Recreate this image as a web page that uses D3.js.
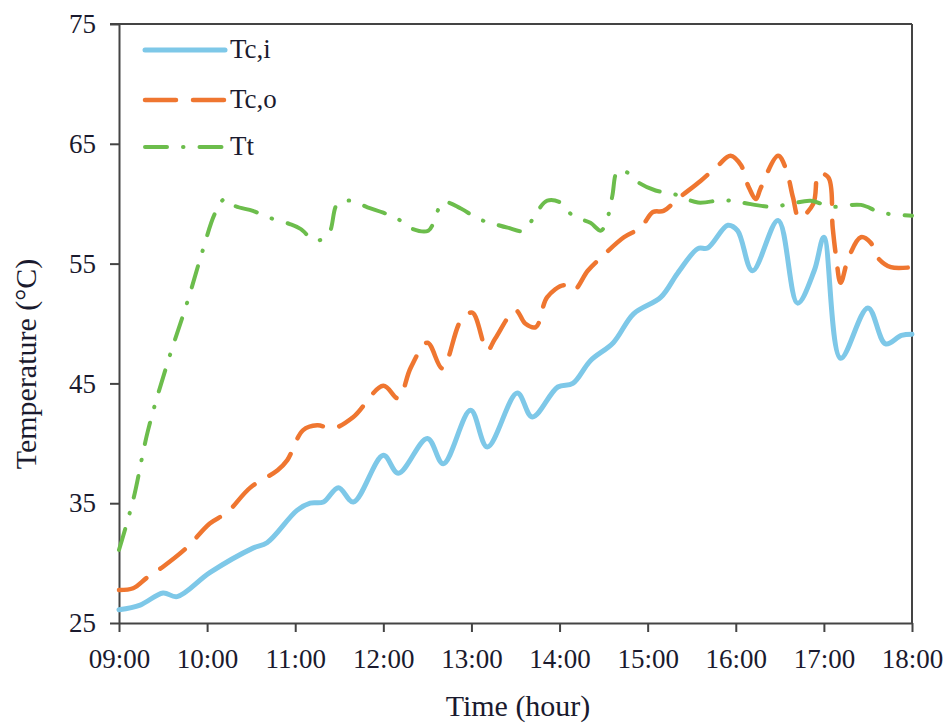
<!DOCTYPE html>
<html>
<head>
<meta charset="utf-8">
<script src="https://cdn.jsdelivr.net/npm/d3@7.9.0/dist/d3.min.js"></script>
<style>
  body { margin: 0; background: #fff; }
  svg { display: block; font-family: "Liberation Serif", "Times New Roman", serif; }
</style>
</head>
<body>
<svg id="chart" width="952" height="727"></svg>
<script>
// ---- data (hours, °C) ----
const tciTime = [9.0, 9.24, 9.5, 9.66, 10.03, 10.52, 10.68, 11.02, 11.17, 11.32, 11.49, 11.66, 12.0, 12.17,
  12.5, 12.68, 12.99, 13.18, 13.52, 13.69, 13.98, 14.15, 14.35, 14.61, 14.84, 15.15, 15.34, 15.57,
  15.68, 15.91, 16.02, 16.19, 16.48, 16.7, 16.89, 17.0, 17.19, 17.5, 17.7, 17.88, 18.0];
const tciTemp = [26.1, 26.5, 27.5, 27.2, 29.2, 31.25, 31.7, 34.4, 35.0, 35.1, 36.3, 35.1, 39.0, 37.5,
  40.4, 38.3, 42.75, 39.7, 44.2, 42.2, 44.7, 45.0, 46.9, 48.4, 50.8, 52.2, 54.2, 56.25,
  56.3, 58.2, 57.75, 54.4, 58.6, 51.7, 54.4, 57.2, 47.1, 51.3, 48.3, 49.0, 49.1];

const tcoTime = [9.0, 9.16, 9.32, 9.5, 9.77, 10.03, 10.23, 10.49, 10.8, 10.91, 11.09, 11.25, 11.43, 11.66,
  12.0, 12.17, 12.31, 12.5, 12.67, 12.88, 13.01, 13.18, 13.27, 13.5, 13.61, 13.73, 13.86, 14.05,
  14.16, 14.32, 14.47, 14.73, 14.92, 15.06, 15.18, 15.34, 15.6, 15.8, 15.94, 16.06, 16.14, 16.23,
  16.28, 16.48, 16.57, 16.65, 16.72, 16.88, 16.94, 17.05, 17.1, 17.14, 17.19, 17.28, 17.42, 17.53,
  17.61, 17.76, 18.0];
const tcoTemp = [27.75, 27.9, 28.8, 29.7, 31.3, 33.3, 34.25, 36.3, 37.75, 38.6, 41.1, 41.5, 41.25, 42.2,
  44.8, 43.75, 46.3, 48.4, 46.25, 50.25, 50.9, 47.75, 48.75, 51.1, 50.0, 49.7, 52.2, 53.2,
  52.75, 54.4, 55.5, 57.2, 58.0, 59.3, 59.4, 60.4, 61.9, 63.2, 64.0, 63.2, 61.5, 60.4,
  61.25, 64.0, 62.9, 60.5, 58.8, 60.0, 62.5, 62.2, 58.0, 55.5, 53.4, 55.5, 57.2, 56.75,
  55.5, 54.7, 54.7];

const ttTime = [9.0, 9.16, 9.33, 9.55, 9.78, 9.95, 10.09, 10.2, 10.32, 10.52, 10.72, 10.94, 11.06, 11.23,
  11.38, 11.48, 11.63, 11.82, 12.0, 12.16, 12.33, 12.51, 12.68, 12.88, 13.07, 13.22, 13.41, 13.59,
  13.75, 13.86, 14.01, 14.15, 14.35, 14.47, 14.56, 14.6, 14.66, 14.77, 14.9, 15.09, 15.3, 15.57,
  15.85, 16.06, 16.4, 16.63, 16.85, 17.08, 17.42, 17.65, 18.0];
const ttTemp = [31.1, 35.25, 41.1, 46.7, 51.9, 56.1, 59.2, 60.4, 59.8, 59.4, 58.8, 58.3, 57.9, 56.9,
  57.5, 60.0, 60.25, 59.7, 59.25, 58.75, 57.9, 57.75, 60.1, 59.6, 58.75, 58.4, 58.0, 57.75,
  59.4, 60.25, 60.1, 59.0, 58.4, 57.75, 59.2, 60.7, 62.75, 62.6, 61.75, 61.1, 60.8, 60.1,
  60.3, 60.1, 59.75, 60.0, 60.25, 59.75, 59.9, 59.25, 59.0];

const xTicks = [9, 10, 11, 12, 13, 14, 15, 16, 17, 18];
const yTicks = [25, 35, 45, 55, 65, 75];

const series = [
  { name: 'Tc,i', time: tciTime, temp: tciTemp, color: '#7ec8e8', width: 5, dash: null },
  { name: 'Tc,o', time: tcoTime, temp: tcoTemp, color: '#ef7630', width: 4.5, dash: '31,17' },
  { name: 'Tt', time: ttTime, temp: ttTemp, color: '#6cbd4c', width: 4, dash: '22,16,0.5,16' },
];

// ---- layout ----
const W = 952, H = 727;
const margin = { top: 24, right: 40, bottom: 104, left: 119 };
const iw = W - margin.left - margin.right;
const ih = H - margin.top - margin.bottom;
const axisColor = '#444';

const svg = d3.select('#chart');
const g = svg.append('g').attr('transform', `translate(${margin.left},${margin.top})`);

const x = d3.scaleLinear().domain([9, 18]).range([0, iw]);
const y = d3.scaleLinear().domain([25, 75]).range([ih, 0]);

const fmtHour = (h) => String(h).padStart(2, '0') + ':00';

// box (top + right)
g.append('line').attr('x1', -9).attr('x2', iw).attr('y1', 0).attr('y2', 0)
  .attr('stroke', axisColor).attr('stroke-width', 2);
g.append('line').attr('x1', iw).attr('x2', iw).attr('y1', 0).attr('y2', ih)
  .attr('stroke', axisColor).attr('stroke-width', 2);

// axes
const xAxis = g.append('g')
  .attr('transform', `translate(0,${ih})`)
  .call(d3.axisBottom(x).tickValues(xTicks).tickFormat(fmtHour).tickSize(9).tickSizeOuter(0).tickPadding(17));
const yAxis = g.append('g')
  .call(d3.axisLeft(y).tickValues(yTicks).tickSize(9).tickSizeOuter(0).tickPadding(14));

[xAxis, yAxis].forEach((a) => {
  a.select('.domain').attr('stroke', axisColor).attr('stroke-width', 2);
  a.selectAll('.tick line').attr('stroke', axisColor).attr('stroke-width', 2);
  a.selectAll('.tick text')
    .attr('fill', '#1a1a2e')
    .style('font-family', '"Liberation Serif", serif')
    .style('font-size', '27px');
});

// axis titles
svg.append('text')
  .attr('x', 518).attr('y', 716)
  .attr('text-anchor', 'middle')
  .attr('fill', '#1a1a2e')
  .style('font-size', '30px')
  .text('Time (hour)');

svg.append('text')
  .attr('transform', 'translate(36,364) rotate(-90)')
  .attr('text-anchor', 'middle')
  .attr('fill', '#1a1a2e')
  .style('font-size', '30px')
  .text('Temperature (°C)');

// lines
const line = d3.line()
  .x((d) => x(d[0]))
  .y((d) => y(d[1]))
  .curve(d3.curveCatmullRom.alpha(0.5));

series.forEach((s) => {
  const pts = s.time.map((t, i) => [t, s.temp[i]]);
  g.append('path')
    .datum(pts)
    .attr('fill', 'none')
    .attr('stroke', s.color)
    .attr('stroke-width', s.width)
    .attr('stroke-linecap', 'round')
    .attr('stroke-linejoin', 'round')
    .attr('stroke-dasharray', s.dash)
    .attr('d', line);
});

// legend
const legendY = [50, 100, 147];
const legend = svg.append('g');
series.forEach((s, i) => {
  legend.append('line')
    .attr('x1', 145).attr('x2', 225)
    .attr('y1', legendY[i]).attr('y2', legendY[i])
    .attr('stroke', s.color)
    .attr('stroke-width', s.width)
    .attr('stroke-linecap', 'round')
    .attr('stroke-dasharray', s.dash);
  legend.append('text')
    .attr('x', 230).attr('y', legendY[i] + 8)
    .attr('fill', '#1a1a2e')
    .style('font-size', '27px')
    .text(s.name);
});
</script>
</body>
</html>
